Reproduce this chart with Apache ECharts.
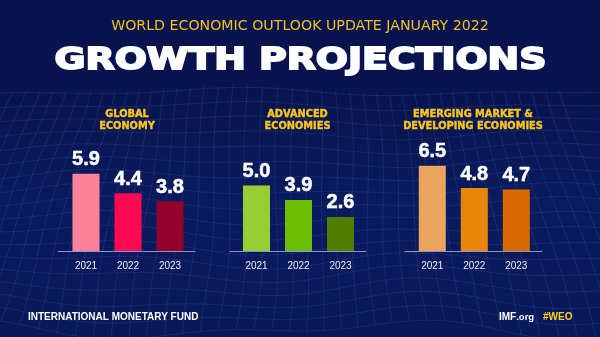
<!DOCTYPE html>
<html>
<head>
<meta charset="utf-8">
<script src="https://cdn.jsdelivr.net/npm/echarts@6/dist/echarts.min.js"></script>
<style>html,body{margin:0;padding:0;background:#08134f;}#c{width:600px;height:337px;}</style>
</head>
<body>
<div id="c"></div>
<script>
// ---- data ----
const years = ['2021', '2022', '2023'];
const globalValues = [5.9, 4.4, 3.8];
const advancedValues = [5.0, 3.9, 2.6];
const emergingValues = [6.5, 4.8, 4.7];
const panelTitles = ['GLOBAL\nECONOMY', 'ADVANCED\nECONOMIES', 'EMERGING MARKET &\nDEVELOPING ECONOMIES'];
const globalColors = ['#FF8199', '#FF0A50', '#930029'];
const advancedColors = ['#98CD33', '#6CBD05', '#4E7D00'];
const emergingColors = ['#EBA55E', '#E8860A', '#D86A00'];
const subtitleText = 'WORLD ECONOMIC OUTLOOK UPDATE JANUARY 2022';
const mainTitleText = 'GROWTH PROJECTIONS';
const footerLeftText = 'INTERNATIONAL MONETARY FUND';

// ---- layout (positions / styles) ----
const panels = [
  { values: globalValues, colors: globalColors, title: panelTitles[0], left: 65, lineLeft: 58, lineWidth: 137, cx: 127 },
  { values: advancedValues, colors: advancedColors, title: panelTitles[1], left: 235.5, lineLeft: 230, lineWidth: 136, cx: 297.5 },
  { values: emergingValues, colors: emergingColors, title: panelTitles[2], left: 411.3, lineLeft: 405, lineWidth: 137, cx: 473 }
];
const baseY = 251, plotH = 131, bandW = 126;
const yellow = '#F9C51C';

const grid = [], xAxis = [], yAxis = [], series = [], titles = [];
panels.forEach((p, i) => {
  grid.push({ left: p.left, top: baseY - plotH, width: bandW, height: plotH });
  xAxis.push({
    type: 'category', gridIndex: 2 * i, data: years,
    axisLine: { show: false }, axisTick: { show: false },
    axisLabel: { color: '#EEEEF4', fontSize: 10, fontFamily: 'Liberation Sans', margin: 10 }
  });
  yAxis.push({ type: 'value', gridIndex: 2 * i, min: 0, max: 10, show: false });
  series.push({
    type: 'bar', xAxisIndex: 2 * i, yAxisIndex: 2 * i, barWidth: 27,
    data: p.values.map((v, k) => ({ value: v, itemStyle: { color: p.colors[k] } })),
    label: {
      show: true, position: 'top', distance: 4,
      formatter: (d) => d.value.toFixed(1),
      color: '#FFFFFF', fontSize: 20, fontWeight: 'bold', fontFamily: 'Liberation Sans',
      textBorderColor: '#FFFFFF', textBorderWidth: 0.5
    }
  });
  grid.push({ left: p.lineLeft, top: baseY - plotH, width: p.lineWidth, height: plotH });
  xAxis.push({
    type: 'value', gridIndex: 2 * i + 1, min: 0, max: 1,
    axisLine: { show: true, lineStyle: { color: '#8E94BD', width: 1 } },
    axisTick: { show: false }, axisLabel: { show: false }, splitLine: { show: false }
  });
  yAxis.push({ type: 'value', gridIndex: 2 * i + 1, show: false });
  titles.push({
    text: p.title, left: p.cx, top: 108, textAlign: 'center', padding: 0,
    textStyle: { color: yellow, fontSize: 9.8, fontWeight: 'bold', fontFamily: 'DejaVu Sans', lineHeight: 12,
      textBorderColor: yellow, textBorderWidth: 0.4 }
  });
});

titles.push({
  text: subtitleText, left: 300, top: 19, textAlign: 'center', padding: 0,
  textStyle: { color: '#EFC21A', fontSize: 14.2, fontWeight: 'normal', fontFamily: 'DejaVu Sans' }
});
titles.push({
  text: footerLeftText, left: 28, top: 312, padding: 0,
  textStyle: { color: '#FFFFFF', fontSize: 10, fontWeight: 'bold', fontFamily: 'Liberation Sans' }
});
titles.push({
  text: '{b|IMF}{r|.org}', left: 499, top: 312, padding: 0,
  textStyle: { rich: {
    b: { color: '#FFFFFF', fontSize: 10, fontWeight: 'bold', fontFamily: 'Liberation Sans' },
    r: { color: '#FFFFFF', fontSize: 9.5, fontFamily: 'Liberation Sans' }
  } }
});
titles.push({
  text: '#WEO', left: 543, top: 312, padding: 0,
  textStyle: { color: '#FFD21F', fontSize: 10, fontWeight: 'bold', fontFamily: 'Liberation Sans' }
});

// decorative background wireframe (texture only, not data)
const mesh = [];
const meshStyle = { stroke: 'rgba(70,110,215,0.28)', lineWidth: 0.7, fill: null };
const wave = (x, y) => 7 * Math.sin(x / 70 + y / 60) + 5 * Math.sin(x / 37 - y / 45);
for (let j = 0; j < 18; j++) {
  const yb = 92 + j * 14;
  const pts = [];
  for (let x = -10; x <= 610; x += 15) pts.push([x, yb + wave(x, yb) * (0.4 + j / 30)]);
  mesh.push({ type: 'polyline', z: -10, silent: true, shape: { points: pts }, style: meshStyle });
}
for (let i = -14; i <= 36; i++) {
  const xb = i * 18;
  const pts = [];
  for (let y = 90; y <= 340; y += 12) {
    const t = (y - 90) / 250;
    const x = 300 + (xb - 300) * (0.75 + 0.25 * t);
    pts.push([x + wave(y, x) * 0.5, y + wave(x, y) * (0.4 + t * 0.6)]);
  }
  mesh.push({ type: 'polyline', z: -10, silent: true, shape: { points: pts }, style: meshStyle });
}

const chart = echarts.init(document.getElementById('c'), null, { renderer: 'canvas' });
chart.setOption({
  animation: false,
  backgroundColor: {
    type: 'linear', x: 0, y: 0, x2: 0, y2: 1,
    colorStops: [
      { offset: 0, color: '#07124F' },
      { offset: 0.3, color: '#08144F' },
      { offset: 0.6, color: '#0A1B5E' },
      { offset: 1, color: '#091858' }
    ]
  },
  title: titles,
  grid, xAxis, yAxis, series,
  graphic: mesh.concat([{
    type: 'text', x: 300.5, y: 61, scaleX: 1.26, scaleY: 1, z: 10,
    style: {
      text: mainTitleText, fill: '#FFFFFF', stroke: '#FFFFFF', lineWidth: 1.8,
      font: 'bold 30px "DejaVu Sans"', align: 'center', verticalAlign: 'middle',
      textAlign: 'center', textVerticalAlign: 'middle'
    }
  }])
});
</script>
</body>
</html>
